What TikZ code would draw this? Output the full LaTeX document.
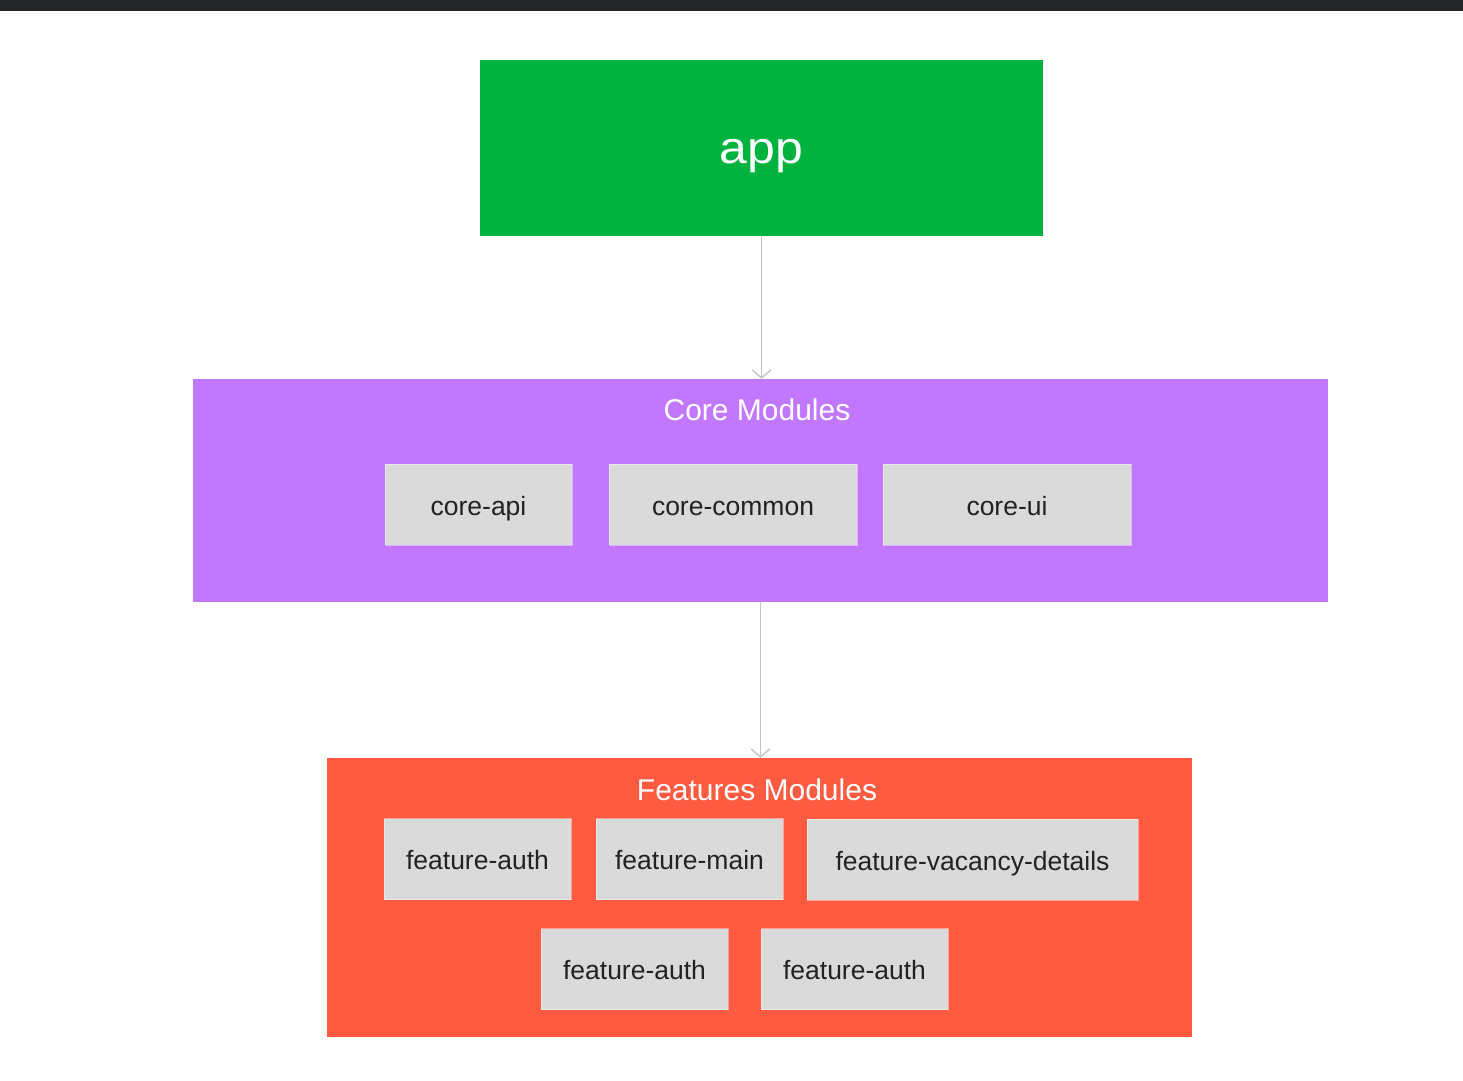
\documentclass[tikz,border=0pt]{standalone}
\usepackage{fontspec}
\setmainfont{Liberation Sans}
\usetikzlibrary{arrows.meta}
\definecolor{topbar}{HTML}{23272A}
\definecolor{appgreen}{HTML}{00B33F}
\definecolor{corepurple}{HTML}{C278FE}
\definecolor{featred}{HTML}{FF5B41}
\definecolor{modgray}{HTML}{DADADA}
\definecolor{modtext}{HTML}{222222}
\definecolor{conngray}{HTML}{C4C4C4}
\begin{document}
\begin{tikzpicture}[x=1pt,y=-1pt,
  mod/.style={draw=white, draw opacity=0.45, line width=1pt, fill=modgray, text=modtext,
    font=\fontsize{26.5}{30}\selectfont, inner sep=0pt, minimum height=81pt,
    text height=21pt, text depth=0pt},
  groupbox/.style={fill=#1, inner sep=0pt},
  grouptitle/.style={text=white, font=\fontsize{30}{34}\selectfont, inner sep=0pt, anchor=base},
  conn/.style={draw=conngray, line width=1.4pt, -{Straight Barb[length=8pt,width=19pt]}}]
\useasboundingbox (0,0) rectangle (1463,1080);
\fill[white] (0,0) rectangle (1463,1080);
\fill[topbar] (0,0) rectangle (1463,10.5);

% app
\node[groupbox=appgreen, minimum width=563pt, minimum height=176pt, text=white,
  font=\fontsize{45}{52}\selectfont, text height=30pt, text depth=0pt] (app) at (761.5,148) {\scalebox{1.11}[1]{app}};

% core modules
\node[groupbox=corepurple, minimum width=1135pt, minimum height=223pt] (core) at (760.5,490.5) {};
\node[grouptitle] (coretitle) at (757,420) {Core Modules};
\node[mod, minimum width=187pt] (capi) at (478.5,504.5) {core-api};
\node[mod, minimum width=248pt] (ccommon) at (733,504.5) {core-common};
\node[mod, minimum width=248pt] (cui) at (1007,504.5) {core-ui};

% features modules
\node[groupbox=featred, minimum width=865pt, minimum height=279pt] (feat) at (759.5,897.5) {};
\node[grouptitle] (feattitle) at (757,800) {Features Modules};
\node[mod, minimum width=187pt] (fauth) at (477.5,859) {feature-auth};
\node[mod, minimum width=187pt] (fmain) at (689.5,859) {feature-main};
\node[mod, minimum width=331pt] (fvac) at (972.5,859.5) {feature-vacancy-details};
\node[mod, minimum width=187pt] (fauthb) at (634.5,969) {feature-auth};
\node[mod, minimum width=187pt] (fauthc) at (854.5,969) {feature-auth};

% connectors
\draw[conn] (app.south) -- (app.south |- core.north);
\draw[conn] (core.south) -- (core.south |- feat.north);
\end{tikzpicture}
\end{document}
